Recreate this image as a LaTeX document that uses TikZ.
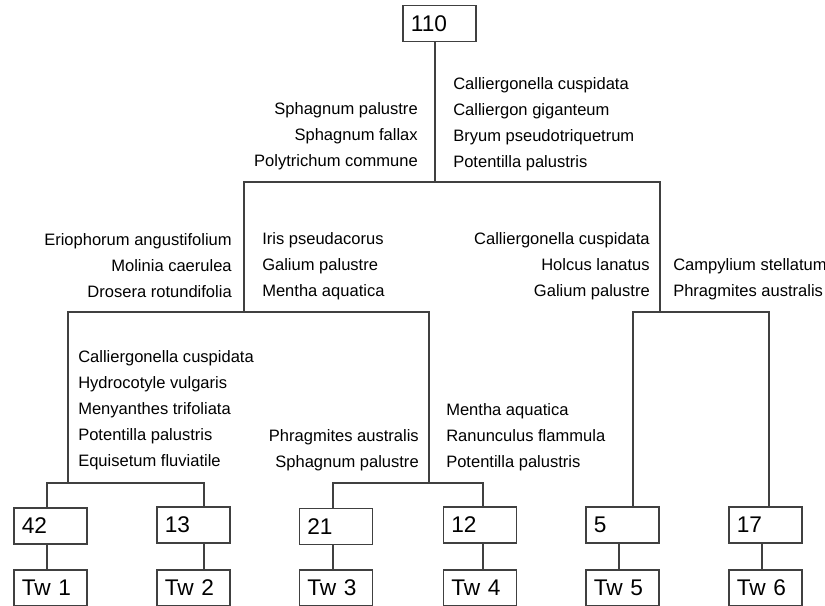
\documentclass[tikz,border=0pt]{standalone}
\usepackage{fontspec}
\setmainfont{Liberation Sans}
\usepackage{xcolor}
\usepackage{tikz}
\usetikzlibrary{positioning}
\definecolor{linegray}{RGB}{64,64,64}
\tikzset{
    box/.style={draw=linegray, line width=1.2pt, rectangle, text width=43pt, inner xsep=6pt, minimum height=27pt, align=left, font=\fontsize{17}{20}\selectfont},
    spec/.style={inner sep=0pt, font=\fontsize{12.4}{19.5}\selectfont},
    branch/.style={draw=linegray, line width=1.2pt}
}

\begin{document}
\begin{tikzpicture}[x=0.75pt, y=-0.75pt]
        \useasboundingbox (0,0) rectangle (825,606);

        % Clusters
        \node[box] (top) at (439.5,23.5) {110};
        \node[box] (a) at (50.5,526) {42};
        \node[box] (b) at (193.5,525) {13};
        \node[box] (c) at (336,526.5) {21};
        \node[box] (d) at (480,525) {12};
        \node[box] (e) at (622.5,525) {5};
        \node[box] (f) at (765.5,525) {17};

        % Types
        \node[box] (tw1) at (50.5,588) {Tw 1};
        \node[box] (tw2) at (193.5,588) {Tw 2};
        \node[box] (tw3) at (336,588) {Tw 3};
        \node[box] (tw4) at (480,588) {Tw 4};
        \node[box] (tw5) at (622.5,588) {Tw 5};
        \node[box] (tw6) at (765.5,588) {Tw 6};

        % Splits
        \coordinate (r0) at (435,182);
        \coordinate (r1) at (244,312);
        \coordinate (r2) at (660,312);
        \coordinate (r3) at (68,483);
        \coordinate (r4) at (429,483);
        \coordinate (sa) at (47,483);
        \coordinate (sb) at (204,483);
        \coordinate (sc) at (333,483);
        \coordinate (sd) at (483,483);
        \coordinate (se) at (633,312);
        \coordinate (sf) at (769,312);
        \coordinate (ge) at (619,560);
        \coordinate (gf) at (762,560);

        \draw[branch] (r0 |- top.south) -- (r0);
        \draw[branch] (r1) |- (r0) -| (r2);
        \draw[branch] (r3) |- (r1) -| (r4);
        \draw[branch] (sa |- a.north) |- (r3) -| (sb |- b.north);
        \draw[branch] (sc |- c.north) |- (r4) -| (sd |- d.north);
        \draw[branch] (se |- e.north) |- (r2) -| (sf |- f.north);

        \draw[branch] (sa |- a.south) -- (sa |- tw1.north);
        \draw[branch] (sb |- b.south) -- (sb |- tw2.north);
        \draw[branch] (sc |- c.south) -- (sc |- tw3.north);
        \draw[branch] (sd |- d.south) -- (sd |- tw4.north);
        \draw[branch] (ge |- e.south) -- (ge |- tw5.north);
        \draw[branch] (gf |- f.south) -- (gf |- tw6.north);

        % Species
        \node[spec, anchor=east, align=right] (ta) at (418,136) {Sphagnum palustre\\Sphagnum fallax\\Polytrichum commune};
        \node[spec, anchor=west, align=left] (tb) at (453,124) {Calliergonella cuspidata\\Calliergon giganteum\\Bryum pseudotriquetrum\\Potentilla palustris};
        \node[spec, anchor=east, align=right] (tc) at (232,266) {Eriophorum angustifolium\\Molinia caerulea\\Drosera rotundifolia};
        \node[spec, anchor=west, align=left] (td) at (262,266) {Iris pseudacorus\\Galium palustre\\Mentha aquatica};
        \node[spec, anchor=east, align=right] (te) at (650,266) {Calliergonella cuspidata\\Holcus lanatus\\Galium palustre};
        \node[spec, anchor=west, align=left] (tf) at (673,279) {Campylium stellatum\\Phragmites australis};
        \node[spec, anchor=west, align=left] (tg) at (78,410) {Calliergonella cuspidata\\Hydrocotyle vulgaris\\Menyanthes trifoliata\\Potentilla palustris\\Equisetum fluviatile};
        \node[spec, anchor=east, align=right] (th) at (419,450) {Phragmites australis\\Sphagnum palustre};
        \node[spec, anchor=west, align=left] (ti) at (446,437) {Mentha aquatica\\Ranunculus flammula\\Potentilla palustris};
    \end{tikzpicture}
\end{document}
